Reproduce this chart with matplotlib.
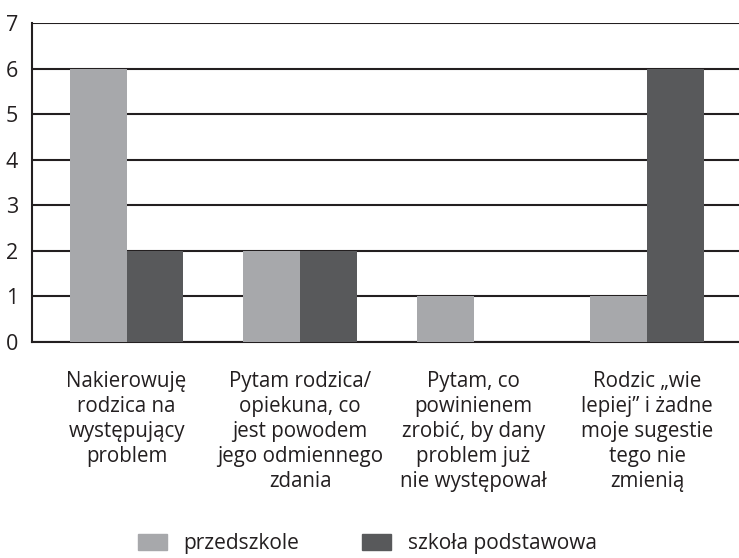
import numpy as np
import matplotlib.pyplot as plt
from matplotlib.patches import Patch

plt.rcParams['font.family'] = ['Open Sans', 'DejaVu Sans']

# chart data
categories = [
    "Nakierowuję\nrodzica na\nwystępujący\nproblem",
    "Pytam rodzica/\nopiekuna, co\njest powodem\njego odmiennego\nzdania",
    "Pytam, co\npowinienem\nzrobić, by dany\nproblem już\nnie występował",
    "Rodzic \u201ewie\nlepiej\u201d i żadne\nmoje sugestie\ntego nie\nzmienią",
]
series_names = ["przedszkole", "szkoła podstawowa"]
przedszkole = [6, 2, 1, 1]
szkola = [2, 2, 0, 6]
yticks = [0, 1, 2, 3, 4, 5, 6, 7]

light = "#a7a8ab"
dark = "#58595b"
ink = "#231f20"

fig = plt.figure(figsize=(7.39, 5.58), dpi=100)
ax = fig.add_axes([32 / 739, 216 / 558, 707 / 739, 319 / 558])

x = np.arange(len(categories))
w = 0.326
ax.bar(x - w / 2, przedszkole, width=w, color=light, zorder=3)
ax.bar(x + w / 2, szkola, width=w, color=dark, zorder=3)

ax.set_xlim(-0.545, 3.53)
ax.set_ylim(0, 7)
ax.set_yticks(yticks)
ax.yaxis.grid(True, color=ink, linewidth=1.5, zorder=1)
ax.set_axisbelow(True)

for s in ["right", "top"]:
    ax.spines[s].set_visible(False)
ax.spines["left"].set_color(ink)
ax.spines["bottom"].set_color(ink)
ax.spines["left"].set_linewidth(1.5)
ax.spines["bottom"].set_linewidth(1.5)

ax.set_xticks(x)
ax.set_xticklabels(categories, fontsize=14.8, color=ink, linespacing=1.25, va="top")
ax.tick_params(axis="x", length=0, pad=21)
ax.tick_params(axis="y", length=0, pad=10, labelsize=15.5, labelcolor=ink)

handles = [Patch(color=light), Patch(color=dark)]
fig.legend(handles, series_names, loc="lower center", bbox_to_anchor=(0.497, -0.027),
           ncol=2, frameon=False, fontsize=15, handlelength=1.4, handleheight=0.78,
           handletextpad=0.8, columnspacing=3.0, labelcolor=ink)

fig.savefig("out.png", dpi=100)
